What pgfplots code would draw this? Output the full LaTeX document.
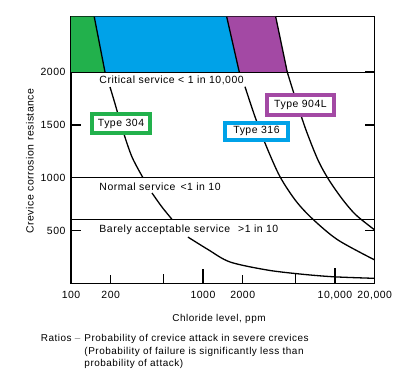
\documentclass[border=0pt]{standalone}
\usepackage{fontspec}
\setmainfont{Liberation Sans}[LetterSpace=5]
\usepackage{pgfplots}
\pgfplotsset{compat=1.18}
\definecolor{tgreen}{RGB}{34,177,76}
\definecolor{tblue}{RGB}{0,162,232}
\definecolor{tpurple}{RGB}{163,73,164}
\newcommand\fa{\fontsize{10.5}{12}\selectfont}
\newcommand\fb{\fontsize{10}{12}\selectfont}
\begin{document}
\begin{tikzpicture}[x=1bp,y=1bp]
\path[use as bounding box] (0,0) rectangle (403,382);
\begin{axis}[
 at={(71bp,98.7bp)}, anchor=south west, scale only axis,
 width=303.7bp, height=266.6bp,
 xmode=log, log basis x=10, xmin=100, xmax=20000, ymin=0, ymax=2525,
 axis line style={line width=1.3bp},
 xtick={100,200,1000,2000,10000,20000},
 xticklabels={100,200,1000,2000,{10,000\hspace{11bp}},{20,000\hspace{9bp}}},
 x tick style={draw=none},
 ytick={500,1000,1500,2000}, yticklabels={500,1000,1500,2000},
 tick align=inside, y tick style={line width=1.3bp, black}, major tick length=10bp,
 tick label style={font=\fa},
 xticklabel style={yshift=-4bp},
 yticklabel style={xshift=-2bp},
 /pgf/number format/assume math mode=true,
]
% coloured band
\addplot[fill=tgreen, draw=none] coordinates {(100,2000)(100,2525)(150,2525)(181,2000)} -- cycle;
\addplot[fill=tblue, draw=none] coordinates {(181,2000)(150,2525)(1512,2525)(1884,2000)} -- cycle;
\addplot[fill=tpurple, draw=none] coordinates {(1884,2000)(1512,2525)(3555,2525)(4351,2000)} -- cycle;
% band boundaries
\addplot[black, line width=1.3bp] coordinates {(150,2525)(181,2000)};
\addplot[black, line width=1.3bp] coordinates {(1512,2525)(1884,2000)};
\addplot[black, line width=1.3bp] coordinates {(3555,2525)(4351,2000)};
% horizontal service lines
\addplot[black, line width=1bp] coordinates {(100,2000)(20000,2000)};
\addplot[black, line width=1bp] coordinates {(100,1000)(20000,1000)};
\addplot[black, line width=1bp] coordinates {(100,600)(20000,600)};
% Type 304
\addplot[black, line width=1.3bp, smooth] coordinates {(197.5,1859)(213.6,1717)(247.7,1442)(289.9,1196)(351,1000)};
\addplot[black, line width=1.3bp, smooth] coordinates {(411,855)(487,725)(582,606)};
\addplot[black, line width=1.3bp, smooth] coordinates {(769,438)(1091,320)(1601,202)(3055,126)(5430,88)(9660,62)(20000,47)};
% Type 316
\addplot[black, line width=1.3bp, smooth] coordinates {(2081,1862)(2477,1578)(3028,1294)(3831,1010)(5064,779)(6813,606)(10537,410)(20000,221)};
% Type 904L
\addplot[black, line width=1.3bp, smooth] coordinates {(4351,2000)(5064,1736)(6031,1452)(7433,1168)(9006,978)(11497,789)(14426,647)(20000,505)};
% x tick marks
\draw[line width=1.3bp] (axis cs:200,0) -- ++(0pt,8.5bp);
\draw[line width=1.3bp] (axis cs:500,0) -- ++(0pt,9bp);
\draw[line width=1.3bp] (axis cs:1000,0) -- ++(0pt,14bp);
\draw[line width=1.3bp] (axis cs:2000,0) -- ++(0pt,8.5bp);
\draw[line width=1.3bp] (axis cs:5000,0) -- ++(0pt,9bp);
\draw[line width=1.3bp] (axis cs:10000,0) -- ++(0pt,15bp);
\end{axis}
% texts in plot
\node[anchor=base west, inner sep=0pt, font=\fa] at (99.3,298.7) {Critical service < 1 in 10,000};
\node[anchor=base west, inner sep=0pt, font=\fa] at (99.3,192) {Normal service\hspace{5bp}<1 in 10};
\node[anchor=base west, inner sep=0pt, font=\fa] at (99.3,149.7) {Barely acceptable service\hspace{8bp}>1 in 10};
% type boxes
\node[draw=tgreen, line width=4bp, fill=white, minimum width=58bp, minimum height=18.7bp, inner sep=0pt, font=\fa] at (121,258.3) {Type 304};
\node[draw=tblue, line width=4bp, fill=white, minimum width=63bp, minimum height=16.7bp, inner sep=0pt, font=\fa] at (256.5,250.7) {Type 316};
\node[draw=tpurple, line width=4bp, fill=white, minimum width=67bp, minimum height=19.4bp, inner sep=0pt, font=\fa] at (300.5,277) {Type 904L};
% axis labels
\node[rotate=90, font=\fa] at (30,221) {Crevice corrosion resistance};
\node[font=\fb] at (219,63) {Chloride level, ppm};
% notes
\node[anchor=base west, inner sep=0pt, font=\fb] at (40.7,41) {Ratios \textcolor{gray}{–}};
\node[anchor=base west, inner sep=0pt, font=\fb] at (84.3,41) {Probability of crevice attack in severe crevices};
\node[anchor=base west, inner sep=0pt, font=\fb] at (84.3,28) {(Probability of failure is significantly less than};
\node[anchor=base west, inner sep=0pt, font=\fb] at (84.3,15.5) {probability of attack)};
\end{tikzpicture}
\end{document}
